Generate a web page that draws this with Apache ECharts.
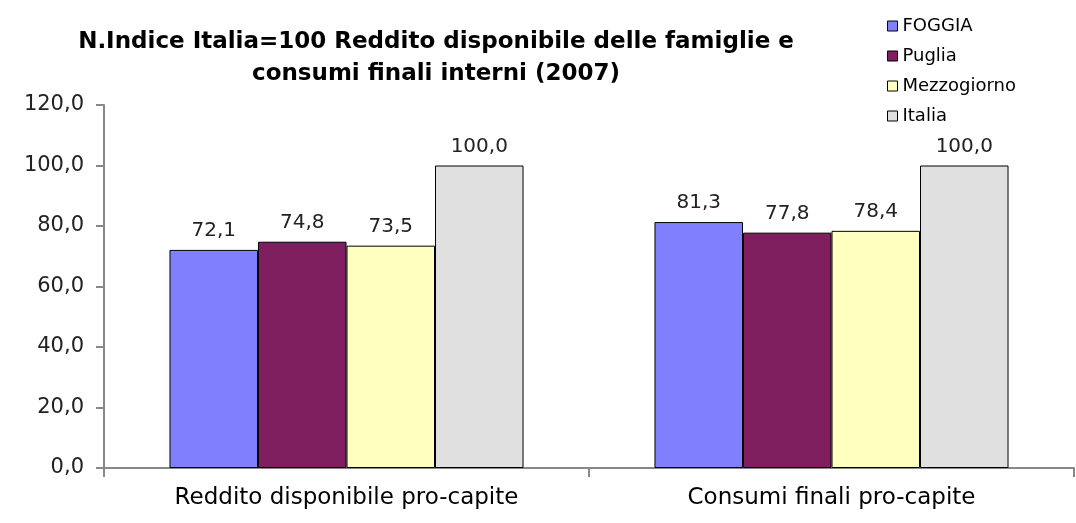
<!DOCTYPE html>
<html>
<head>
<meta charset="utf-8">
<script src="https://cdn.jsdelivr.net/npm/echarts@6/dist/echarts.min.js"></script>
<style>
  html, body { margin: 0; padding: 0; background: #fff; }
  #chart { width: 1076px; height: 523px; }
</style>
</head>
<body>
<div id="chart"></div>
<script>
// dati
const categories = ['Reddito disponibile pro-capite', 'Consumi finali pro-capite']
const seriesNames = ['FOGGIA', 'Puglia', 'Mezzogiorno', 'Italia']
const foggia = [72.1, 81.3]
const puglia = [74.8, 77.8]
const mezzogiorno = [73.5, 78.4]
const italia = [100.0, 100.0]
const yTicks = [0, 20, 40, 60, 80, 100, 120]

const colors = ['#8080ff', '#7f1f5f', '#ffffc0', '#e0e0e0']
const values = [foggia, puglia, mezzogiorno, italia]

const fmt = (v) => Number(v).toFixed(1).replace('.', ',')

const chart = echarts.init(document.getElementById('chart'))

const option = {
  backgroundColor: '#ffffff',
  animation: false,
  title: {
    text: 'N.Indice Italia=100 Reddito disponibile delle famiglie e\nconsumi finali interni (2007)',
    left: 431,
    top: 21,
    textAlign: 'center',
    textStyle: {
      fontFamily: 'DejaVu Sans',
      fontWeight: 'bold',
      fontSize: 23,
      lineHeight: 32,
      color: '#000',
      align: 'center'
    }
  },
  legend: {
    orient: 'vertical',
    left: 882,
    top: 12,
    itemWidth: 10,
    itemHeight: 10,
    itemGap: 12,
    icon: 'rect',
    data: seriesNames,
    itemStyle: { borderColor: '#000', borderWidth: 1 },
    textStyle: {
      fontFamily: 'DejaVu Sans',
      fontSize: 18,
      lineHeight: 18,
      color: '#000'
    }
  },
  grid: {
    left: 104,
    right: 2,
    top: 105,
    bottom: 55
  },
  xAxis: {
    type: 'category',
    data: categories,
    axisLine: { lineStyle: { color: '#888', width: 2 } },
    axisTick: { show: true, length: 9, lineStyle: { color: '#888', width: 2 } },
    axisLabel: {
      interval: 0,
      hideOverlap: false,
      margin: 19,
      fontFamily: 'DejaVu Sans',
      fontSize: 23,
      color: '#000'
    }
  },
  yAxis: {
    type: 'value',
    min: yTicks[0],
    max: yTicks[yTicks.length - 1],
    interval: 20,
    axisLine: { show: true, lineStyle: { color: '#888', width: 2 } },
    axisTick: { show: true, length: 8, lineStyle: { color: '#888', width: 2 } },
    splitLine: { show: false },
    axisLabel: {
      margin: 20,
      fontFamily: 'DejaVu Sans',
      fontSize: 21,
      color: '#222',
      formatter: (v) => fmt(v)
    }
  },
  series: seriesNames.map((name, i) => ({
    name: name,
    type: 'bar',
    data: values[i],
    barGap: '0%',
    barCategoryGap: '27%',
    itemStyle: {
      color: colors[i],
      borderColor: '#000',
      borderWidth: 1
    },
    label: {
      show: true,
      position: 'top',
      distance: 9,
      fontFamily: 'DejaVu Sans',
      fontSize: 20,
      color: '#222',
      formatter: (p) => fmt(p.value)
    }
  }))
}

chart.setOption(option)
</script>
</body>
</html>
